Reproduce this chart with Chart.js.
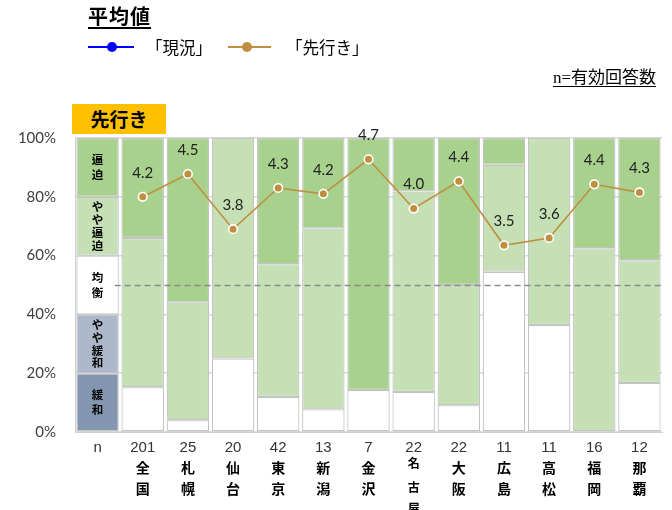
<!DOCTYPE html>
<html><head><meta charset="utf-8">
<script src="https://cdn.jsdelivr.net/npm/chart.js@4"></script>
<style>
html,body{margin:0;padding:0;background:#fff;}
body{width:672px;height:510px;overflow:hidden;position:relative;font-family:"Noto Sans CJK JP","Noto Sans",sans-serif;color:#000;}
#c{position:absolute;left:0;top:0;}
.abs{position:absolute;white-space:nowrap;}
.title{left:88px;top:2px;font-size:20px;font-weight:bold;text-decoration:underline;text-underline-offset:3px;line-height:28px;letter-spacing:1px;}
.lg{top:36px;font-size:16.5px;line-height:22px;}
.ln{position:absolute;height:2px;}
.dot{position:absolute;border-radius:50%;}
.note{right:16px;top:65px;font-size:17px;line-height:22px;text-decoration:underline;text-underline-offset:3px;}
.note .s{font-family:"Liberation Serif",serif;}
.box{left:72px;top:104px;width:94px;height:30px;background:#ffc000;font-size:19px;font-weight:bold;line-height:30px;text-align:center;}
</style></head>
<body>
<canvas id="c" width="672" height="510"></canvas>
<div class="abs title">平均値</div>
<div class="ln" style="left:88px;top:46px;width:46px;background:#0000ff;"></div>
<div class="dot" style="left:107px;top:42px;width:10px;height:10px;background:#0000ff;"></div>
<div class="abs lg" style="left:146px;">「現況」</div>
<div class="ln" style="left:228px;top:46px;width:43px;background:#bf8f40;"></div>
<div class="dot" style="left:242px;top:42px;width:10px;height:10px;background:#bf8f40;"></div>
<div class="abs lg" style="left:286px;">「先行き」</div>
<div class="abs note"><span class="s">n=</span>有効回答数</div>
<div class="abs box">先行き</div>
<script>
// ---- data ----
const categories = ['n','全国','札幌','仙台','東京','新潟','金沢','名古屋','大阪','広島','高松','福岡','那覇'];
const nLabels = ['n','201','25','20','42','13','7','22','22','11','11','16','12'];
const keyLabels = ['緩和','やや緩和','均衡','やや逼迫','逼迫'];
const kanwa       = [20, 0, 0, 0, 0, 0, 0, 0, 0, 0, 0, 0, 0];
const yayaKanwa   = [20, 0, 0, 0, 0, 0, 0, 0, 0, 0, 0, 0, 0];
const kinkou      = [20, 15.2, 4.0, 25.0, 11.9, 7.7, 14.3, 13.6, 9.1, 54.5, 36.4, 0, 16.7];
const yayaHippaku = [20, 50.8, 40.0, 75.0, 45.2, 61.5, 0, 68.2, 40.9, 36.4, 63.6, 62.5, 41.7];
const hippaku     = [20, 34.0, 56.0, 0, 42.9, 30.8, 85.7, 18.2, 50.0, 9.1, 0, 37.5, 41.6];
const outlookAvg  = [null, 4.20, 4.51, 3.76, 4.32, 4.24, 4.71, 4.04, 4.41, 3.54, 3.64, 4.37, 4.26];
const yTicks = [0, 20, 40, 60, 80, 100];

const GRAY = '#c3c3c3';
const LINE = '#bf8f40';
const JP = '"Noto Sans CJK JP"';

const overlay = {
  id: 'overlay',
  beforeDatasetDraw(chart, args) {
    if (args.meta.type !== 'line') return;
    const ctx = chart.ctx, x = chart.scales.x, y2 = chart.scales.y2;
    const yy = Math.round(y2.getPixelForValue(3)) + 0.5;
    ctx.save();
    ctx.strokeStyle = '#8a8a8a';
    ctx.lineWidth = 1.3;
    ctx.setLineDash([6, 4]);
    ctx.beginPath();
    ctx.moveTo(x.getPixelForValue(0) + 17, yy);
    ctx.lineTo(chart.chartArea.right, yy);
    ctx.stroke();
    ctx.restore();
  },
  afterDatasetsDraw(chart) {
    const ctx = chart.ctx, x = chart.scales.x, y = chart.scales.y;
    ctx.save();
    ctx.textAlign = 'center';
    ctx.textBaseline = 'middle';
    ctx.fillStyle = '#000';
    // key column labels
    const kx = x.getPixelForValue(0);
    keyLabels.forEach((lab, k) => {
      const cy = y.getPixelForValue(k * 20 + 10);
      const chars = Array.from(lab);
      const sp = chars.length > 2 ? 12.8 : 15;
      ctx.font = 'bold 11.5px ' + JP;
      chars.forEach((ch, j) => {
        ctx.fillText(ch, kx, cy + (j - (chars.length - 1) / 2) * sp);
      });
    });
    // city names
    const b = chart.chartArea.bottom;
    categories.forEach((name, i) => {
      if (i === 0) return;
      const cx = x.getPixelForValue(i);
      const chars = Array.from(name);
      if (chars.length === 3) {
        ctx.font = 'bold 12px ' + JP;
        [31, 55, 76].forEach((o, j) => ctx.fillText(chars[j], cx, b + o));
      } else {
        ctx.font = 'bold 14px ' + JP;
        [36, 57].forEach((o, j) => ctx.fillText(chars[j], cx, b + o));
      }
    });
    // line value labels
    const meta = chart.getDatasetMeta(0);
    ctx.font = '15px Lato';
    ctx.fillStyle = '#222';
    meta.data.forEach((pt, i) => {
      const v = outlookAvg[i];
      if (v == null) return;
      ctx.fillText(v.toFixed(1), pt.x, pt.y - 24);
    });
    ctx.restore();
  }
};

const barDs = (label, data, color) => ({
  type: 'bar', label, data, backgroundColor: color, borderColor: GRAY,
  borderWidth: 1.2, borderSkipped: false, yAxisID: 'y', order: 1,
  barPercentage: 0.94, categoryPercentage: 1
});

new Chart(document.getElementById('c'), {
  data: {
    labels: categories,
    datasets: [
      { type: 'line', label: '「先行き」', data: outlookAvg, yAxisID: 'y2', order: 0,
        borderColor: LINE, borderWidth: 1.6, pointBackgroundColor: LINE,
        pointBorderColor: '#fff', pointBorderWidth: 1.6, pointRadius: 4.3,
        spanGaps: false, tension: 0, clip: false },
      barDs('緩和', kanwa, ['#8497b0']),
      barDs('やや緩和', yayaKanwa, ['#adb9ca']),
      barDs('均衡', kinkou, '#ffffff'),
      barDs('やや逼迫', yayaHippaku, '#c5e0b4'),
      barDs('逼迫', hippaku, '#a9d18e')
    ]
  },
  options: {
    responsive: false, animation: false,
    layout: { padding: { top: 138, right: 10, left: 0, bottom: 0 } },
    plugins: { legend: { display: false }, tooltip: { enabled: false } },
    scales: {
      x: {
        stacked: true,
        grid: { display: false, drawTicks: false },
        border: { display: true, color: '#d0d0d0', width: 1 },
        ticks: { callback: (v, i) => nLabels[i], color: '#333', padding: 7,
                 font: { family: 'Liberation Sans', size: 15 }, maxRotation: 0, autoSkip: false },
        afterFit: s => { s.height = 78; }
      },
      y: {
        stacked: true, min: 0, max: 100,
        afterBuildTicks: s => { s.ticks = yTicks.map(v => ({ value: v })); },
        grid: { color: '#d9d9d9', lineWidth: 1.5, drawTicks: false },
        border: { display: true, color: '#d0d0d0' },
        ticks: { callback: v => v + '%', color: '#404040', padding: 19,
                 font: { family: 'Lato', size: 15 } },
        afterFit: s => { s.width = 75; }
      },
      y2: { display: false, min: 1, max: 5 }
    }
  },
  plugins: [overlay]
});
</script>
</body></html>
